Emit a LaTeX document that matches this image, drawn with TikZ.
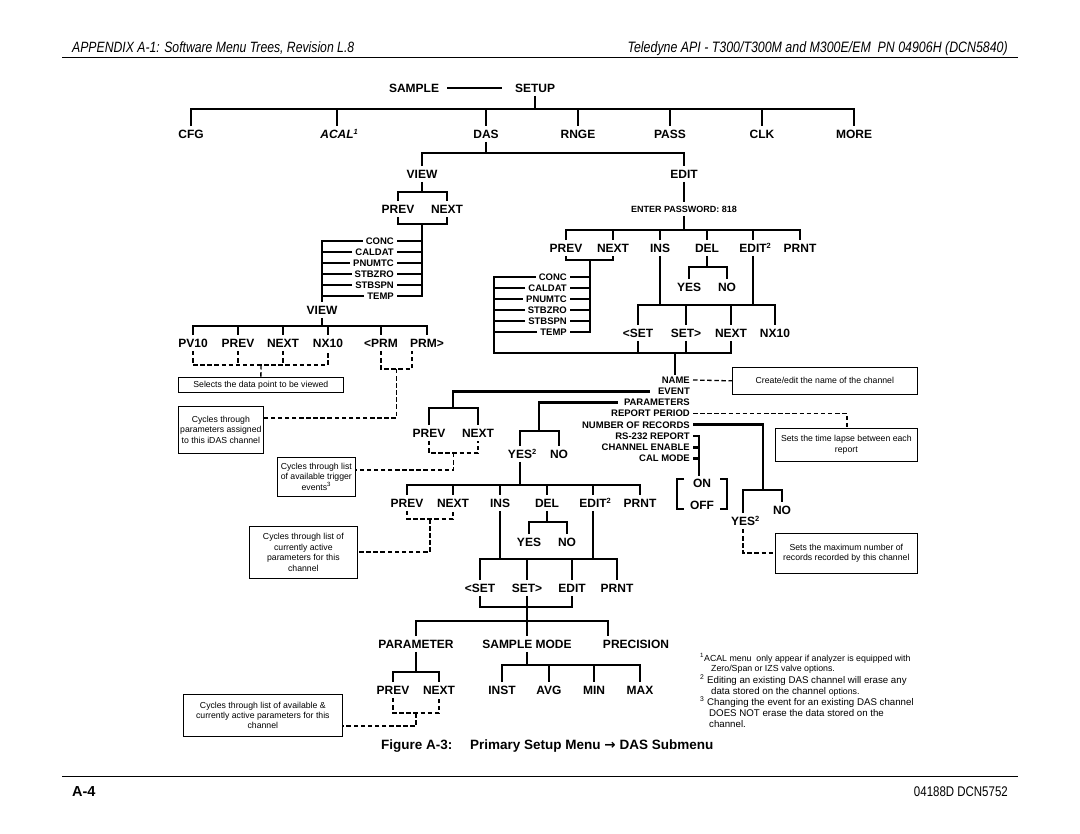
\documentclass[tikz,border=0pt]{standalone}
\usepackage{fontspec}
\setmainfont{Liberation Sans}
\newfontfamily\narrowfont{Liberation Sans}[FakeStretch=0.82]
\newfontfamily\arrowfont{DejaVu Sans}
\usetikzlibrary{calc}
\newcommand\sups[1]{\rlap{\raisebox{4.2pt}{\fontsize{7.5}{7.5}\selectfont #1}}}
\tikzset{
 tree/.style={line width=2.9pt, line join=miter},
 dsh/.style={line width=1.3pt, dash pattern=on 4.5pt off 2.6pt},
 lbl/.style={font=\bfseries\fontsize{12}{12}\selectfont, inner xsep=1pt, inner ysep=3.5pt, text height=8.5pt, text depth=0pt},
 sm/.style={font=\bfseries\fontsize{9.5}{10}\selectfont, inner xsep=3pt, inner ysep=1pt, text height=6.8pt, text depth=0pt, anchor=east},
 note/.style={draw, line width=0.7pt, font=\fontsize{8.7}{10.4}\selectfont, align=center, inner sep=0pt, anchor=north west},
 fna/.style={anchor=west, inner sep=0pt, text height=6.3pt, text depth=0pt, font=\fontsize{8.8}{10}\selectfont},
 fnb/.style={anchor=west, inner sep=0pt, text height=7pt, text depth=0pt, font=\fontsize{9.7}{10}\selectfont},
}
\begin{document}
\begin{tikzpicture}[x=1pt,y=-1pt]
\fill[white] (0,0) rectangle (1080,834);
\useasboundingbox (0,0) rectangle (1080,834);

% header and footer
\node[anchor=west, inner sep=0pt, text height=10.7pt, text depth=0pt, font=\narrowfont\itshape\fontsize{14.9}{15}\selectfont] (hl) at (72,47) {APPENDIX A-1: Software Menu Trees, Revision L.8};
\node[anchor=east, inner sep=0pt, text height=10.7pt, text depth=0pt, font=\narrowfont\itshape\fontsize{15.1}{15}\selectfont] (hr) at (1008,47) {Teledyne API - T300/T300M and M300E/EM\ \ PN 04906H (DCN5840)};
\draw[line width=0.9pt] (62,57.5) -- (1018,57.5);
\draw[line width=0.9pt] (62,776) -- (1018,776);
\node[anchor=west, inner sep=0pt, text height=10.4pt, text depth=0pt, font=\bfseries\fontsize{14.5}{15}\selectfont] (pg) at (72,791) {A-4};
\node[anchor=east, inner sep=0pt, text height=10pt, text depth=0pt, font=\narrowfont\fontsize{14}{15}\selectfont] (dcn) at (1008,791) {04188D DCN5752};
\node[anchor=west, inner sep=0pt, text height=9.7pt, text depth=0pt, font=\bfseries\fontsize{13.5}{14}\selectfont] (figA) at (381,745) {Figure A-3:};
\node[anchor=west, inner sep=0pt, text height=9.7pt, text depth=0pt, font=\bfseries\fontsize{13.5}{14}\selectfont] (figB) at (470,745) {Primary Setup Menu {\arrowfont\bfseries →} DAS Submenu};

% top level
\node[lbl] (sample) at (414,88) {SAMPLE};
\node[lbl] (setup) at (535,88) {SETUP};
\draw[line width=2.2pt] ([xshift=7pt]sample.east) -- ([xshift=-12pt]setup.west);
\coordinate (b0) at (535,109);
\draw[tree] (setup.south) -- (b0);
\node[lbl] (cfg) at (191,134) {CFG};
\node[lbl] (acal) at (337,134) {\itshape ACAL\sups{1}};
\node[lbl] (das) at (486,134) {DAS};
\node[lbl] (rnge) at (578,134) {RNGE};
\node[lbl] (pass) at (670,134) {PASS};
\node[lbl] (clk) at (762,134) {CLK};
\node[lbl] (more) at (854,134) {MORE};
\draw[tree] (cfg.north) -- (cfg.north|-b0) -- (more.north|-b0) -- (more.north);
\foreach \n in {acal,das,rnge,pass,clk} \draw[tree] (\n.north|-b0) -- (\n.north);

% DAS
\coordinate (b1) at (486,153);
\draw[tree] (das.south) -- (b1);
\node[lbl] (view1) at (422,174) {VIEW};
\node[lbl] (edit1) at (684,174) {EDIT};
\draw[tree] (view1.north) -- (view1.north|-b1) -- (edit1.north|-b1) -- (edit1.north);

% VIEW branch
\coordinate (b2) at (422,192);
\draw[tree] (view1.south) -- (b2);
\node[lbl] (prev1) at (398,209) {PREV};
\node[lbl] (next1) at (447,209) {NEXT};
\draw[tree] (prev1.north) -- (prev1.north|-b2) -- (next1.north|-b2) -- (next1.north);
\coordinate (b3) at (422,224);
\draw[tree] (prev1.south) -- (prev1.south|-b3) -- (next1.south|-b3) -- (next1.south);
\node[sm] (la) at (397,241) {CONC};
\node[sm] (lb) at (397,252) {CALDAT};
\node[sm] (lc) at (397,263) {PNUMTC};
\node[sm] (ld) at (397,274) {STBZRO};
\node[sm] (le) at (397,285) {STBSPN};
\node[sm] (lf) at (397,296) {TEMP};
\draw[tree] (b3) -- (lf.east -| b3) -- (lf.east);
\foreach \n in {la,lb,lc,ld,le} \draw[tree] (\n.east) -- (\n.east -| b3);
\coordinate (lv1) at (322,241);
\node[lbl] (view2) at (322,310) {VIEW};
\draw[tree] (la.west) -- (la.west -| lv1) -- (view2.north);
\foreach \n in {lb,lc,ld,le,lf} \draw[tree] (\n.west) -- (\n.west -| lv1);
\coordinate (b4) at (322,326);
\draw[tree] (view2.south) -- (b4);
\node[lbl] (pv10) at (193,343) {PV10};
\node[lbl] (prev2) at (238,343) {PREV};
\node[lbl] (next2) at (283,343) {NEXT};
\node[lbl] (nx10) at (328,343) {NX10};
\node[lbl] (lprm) at (381,343) {<PRM};
\node[lbl] (rprm) at (427,343) {PRM>};
\draw[tree] (pv10.north) -- (pv10.north|-b4) -- (rprm.north|-b4) -- (rprm.north);
\foreach \n in {prev2,next2,nx10,lprm} \draw[tree] (\n.north|-b4) -- (\n.north);
\coordinate (d1) at (261,365);
\draw[dsh] (pv10.south) -- (pv10.south|-d1) -- (nx10.south|-d1) -- (nx10.south);
\foreach \n in {prev2,next2} \draw[dsh] (\n.south) -- (\n.south|-d1);
\node[note, minimum width=165pt, minimum height=15pt] (sel) at (178,377) {Selects the data point to be viewed};
\draw[dsh] (d1) -- (sel.north);
\coordinate (rprmd) at ([xshift=-15pt]rprm.south);
\coordinate (d2) at (396.5,369);
\draw[dsh] (lprm.south) -- (lprm.south|-d2) -- (rprmd|-d2) -- (rprmd);
\node[note, minimum width=85pt, minimum height=47pt] (box2) at (178,406) {Cycles through\\parameters assigned\\to this iDAS channel};
\coordinate (d2b) at (263,418);
\draw[dsh] (d2) -- (d2|-d2b) -- (d2b);

% EDIT branch
\node[font=\bfseries\fontsize{9}{9}\selectfont, inner xsep=1pt, inner ysep=3.5pt, text height=6.5pt, text depth=0pt] (pw) at (684,209) {ENTER PASSWORD: 818};
\draw[tree] (edit1.south) -- (pw.north);
\coordinate (b5) at (684,230);
\draw[tree] (pw.south) -- (b5);
\node[lbl] (prev3) at (566,248) {PREV};
\node[lbl] (next3) at (613,248) {NEXT};
\node[lbl] (ins1) at (660,248) {INS};
\node[lbl] (del1) at (707,248) {DEL};
\node[lbl] (edit2) at (753,248) {EDIT\sups{2}};
\node[lbl] (prnt1) at (800,248) {PRNT};
\draw[tree] (prev3.north) -- (prev3.north|-b5) -- (prnt1.north|-b5) -- (prnt1.north);
\foreach \n in {next3,ins1,del1,edit2} \draw[tree] (\n.north|-b5) -- (\n.north);
\coordinate (b6) at (590,260);
\draw[tree] (prev3.south) -- (prev3.south|-b6) -- (next3.south|-b6) -- (next3.south);
\node[sm] (ua) at (570,277) {CONC};
\node[sm] (ub) at (570,288) {CALDAT};
\node[sm] (uc) at (570,299) {PNUMTC};
\node[sm] (ud) at (570,310) {STBZRO};
\node[sm] (ue) at (570,321) {STBSPN};
\node[sm] (uf) at (570,332) {TEMP};
\draw[tree] (b6) -- (uf.east -| b6) -- (uf.east);
\foreach \n in {ua,ub,uc,ud,ue} \draw[tree] (\n.east) -- (\n.east -| b6);
\coordinate (lv2) at (494,277);
\coordinate (b7) at (675,353);
\node[lbl] (lset1) at (638,333) {<SET};
\node[lbl] (rset1) at (686,333) {SET>};
\node[lbl] (nextb) at (731,333) {NEXT};
\node[lbl] (nx10b) at (775,333) {NX10};
\draw[tree] (ua.west) -- (ua.west -| lv2) -- (lv2|-b7) -- (nextb.south|-b7) -- (nextb.south);
\foreach \n in {ub,uc,ud,ue,uf} \draw[tree] (\n.west) -- (\n.west -| lv2);
\foreach \n in {lset1,rset1} \draw[tree] (\n.south) -- (\n.south|-b7);
\coordinate (b8) at (707,267);
\draw[tree] (del1.south) -- (b8);
\node[lbl] (yes1) at (689,287) {YES};
\node[lbl] (no1) at (727,287) {NO};
\draw[tree] (yes1.north) -- (yes1.north|-b8) -- (no1.north|-b8) -- (no1.north);
\coordinate (b9) at (700,305);
\draw[tree] (ins1.south) -- (ins1.south|-b9);
\draw[tree] (edit2.south) -- (edit2.south|-b9);
\draw[tree] (lset1.north) -- (lset1.north|-b9) -- (nx10b.north|-b9) -- (nx10b.north);
\foreach \n in {rset1,nextb} \draw[tree] (\n.north|-b9) -- (\n.north);

% channel properties
\node[sm] (name) at (693,380) {NAME};
\node[sm] (event) at (693,391.2) {EVENT};
\node[sm] (params) at (693,402.4) {PARAMETERS};
\node[sm] (rper) at (693,413.6) {REPORT PERIOD};
\node[sm] (nrec) at (693,424.8) {NUMBER OF RECORDS};
\node[sm] (rs) at (693,436) {RS-232 REPORT};
\node[sm] (chen) at (693,447.2) {CHANNEL ENABLE};
\node[sm] (calm) at (693,458.4) {CAL MODE};
\draw[tree] (b7) -- (b7|-name.north);
\node[note, minimum width=185pt, minimum height=27pt] (nameBox) at (732,367) {Create/edit the name of the channel};
\draw[dsh] (name.east) -- (nameBox.west);

% EVENT
\coordinate (b10) at (453,408);
\coordinate (evs) at ([xshift=-5pt]event.west);
\draw[tree] (evs) -- (evs -| b10) -- (b10);
\node[lbl] (prev4) at (429,433) {PREV};
\node[lbl] (next4) at (478,433) {NEXT};
\draw[tree] (prev4.north) -- (prev4.north|-b10) -- (next4.north|-b10) -- (next4.north);
\coordinate (d3) at (453.5,453);
\draw[dsh] (prev4.south) -- (prev4.south|-d3) -- (next4.south|-d3) -- (next4.south);
\node[note, minimum width=78pt, minimum height=39pt] (box3) at (277,457) {Cycles through list\\of available trigger\\events\textsuperscript{3}};
\coordinate (d3b) at (355,470);
\draw[dsh] (d3) -- (d3|-d3b) -- (d3b);

% PARAMETERS
\coordinate (b11) at (539,431);
\coordinate (pas) at ([xshift=-3pt]params.west);
\draw[tree] (pas) -- (pas -| b11) -- (b11);
\node[lbl] (yes2) at (520,454) {YES\sups{2}};
\node[lbl] (no2) at (559,454) {NO};
\draw[tree] (yes2.north) -- (yes2.north|-b11) -- (no2.north|-b11) -- (no2.north);
\coordinate (b12) at (520,485);
\draw[tree] (yes2.south) -- (b12);
\node[lbl] (prev5) at (407,503) {PREV};
\node[lbl] (next5) at (453,503) {NEXT};
\node[lbl] (ins2) at (500,503) {INS};
\node[lbl] (del2) at (547,503) {DEL};
\node[lbl] (edit3) at (593,503) {EDIT\sups{2}};
\node[lbl] (prnt2) at (640,503) {PRNT};
\draw[tree] (prev5.north) -- (prev5.north|-b12) -- (prnt2.north|-b12) -- (prnt2.north);
\foreach \n in {next5,ins2,del2,edit3} \draw[tree] (\n.north|-b12) -- (\n.north);
\coordinate (d4) at (430,519);
\draw[dsh] (prev5.south) -- (prev5.south|-d4) -- (next5.south|-d4) -- (next5.south);
\node[note, minimum width=108pt, minimum height=52pt] (box4) at (249,526) {Cycles through list of\\currently active\\parameters for this\\channel};
\coordinate (d4b) at (357,552);
\draw[dsh] (d4) -- (d4|-d4b) -- (d4b);
\coordinate (b13) at (547,522);
\draw[tree] (del2.south) -- (b13);
\node[lbl] (yes3) at (529,542) {YES};
\node[lbl] (no3) at (567,542) {NO};
\draw[tree] (yes3.north) -- (yes3.north|-b13) -- (no3.north|-b13) -- (no3.north);
\coordinate (b14) at (548,559);
\draw[tree] (ins2.south) -- (ins2.south|-b14);
\draw[tree] (edit3.south) -- (edit3.south|-b14);
\node[lbl] (lset2) at (480,588) {<SET};
\node[lbl] (rset2) at (527,588) {SET>};
\node[lbl] (edit4) at (572,588) {EDIT};
\node[lbl] (prnt3) at (617,588) {PRNT};
\draw[tree] (lset2.north) -- (lset2.north|-b14) -- (prnt3.north|-b14) -- (prnt3.north);
\foreach \n in {rset2,edit4} \draw[tree] (\n.north|-b14) -- (\n.north);
\coordinate (b15) at (527,607);
\coordinate (b16) at (527,621);
\draw[tree] (lset2.south) -- (lset2.south|-b15) -- (edit4.south|-b15) -- (edit4.south);
\node[lbl] (param) at (416,644) {PARAMETER};
\node[lbl] (smode) at (527,644) {SAMPLE MODE};
\node[lbl] (prec) at (636,644) {PRECISION};
\coordinate (precx) at (608,644);
\draw[tree] (rset2.south) -- (smode.north);
\draw[tree] (param.north) -- (param.north|-b16) -- (precx|-b16) -- (precx|-prec.north);
\coordinate (b17) at (416,672);
\draw[tree] (param.south) -- (b17);
\node[lbl] (prev6) at (393,690) {PREV};
\node[lbl] (next6) at (439,690) {NEXT};
\draw[tree] (prev6.north) -- (prev6.north|-b17) -- (next6.north|-b17) -- (next6.north);
\coordinate (d5) at (416,713);
\draw[dsh] (prev6.south) -- (prev6.south|-d5) -- (next6.south|-d5) -- (next6.south);
\node[note, minimum width=159pt, minimum height=42pt] (box5) at (183,694) {Cycles through list of available \&\\currently active parameters for this\\channel};
\coordinate (d5b) at (342,726);
\draw[dsh] (d5) -- (d5|-d5b) -- (d5b);
\coordinate (b18) at (527,665);
\draw[tree] (smode.south) -- (b18);
\node[lbl] (inst) at (502,690) {INST};
\node[lbl] (avg) at (549,690) {AVG};
\node[lbl] (min) at (594,690) {MIN};
\node[lbl] (max) at (640,690) {MAX};
\draw[tree] (inst.north) -- (inst.north|-b18) -- (max.north|-b18) -- (max.north);
\foreach \n in {avg,min} \draw[tree] (\n.north|-b18) -- (\n.north);

% REPORT PERIOD
\node[note, minimum width=142pt, minimum height=33pt] (box6) at (775,428) {Sets the time lapse between each\\report};
\coordinate (d6) at (847,413.6);
\draw[dsh] (rper.east) -- (d6) -- (d6|-box6.north);

% NUMBER OF RECORDS
\coordinate (b19) at (763,490);
\draw[tree] (nrec.east) -- (nrec.east -| b19) -- (b19);
\node[lbl] (yes4) at (743,521) {YES\sups{2}};
\node[lbl] (no4) at (782,510) {NO};
\draw[tree] (yes4.north) -- (yes4.north|-b19) -- (no4.north|-b19) -- (no4.north);
\node[note, minimum width=142pt, minimum height=40pt] (box7) at (775,533) {Sets the maximum number of\\records recorded by this channel};
\coordinate (d7) at (743,553);
\draw[dsh] (yes4.south) -- (d7) -- (d7 -| box7.west);

% ON / OFF
\coordinate (v20) at (699,476);
\draw[tree] (rs.east) -- (rs.east -| v20) -- (v20);
\foreach \n in {chen,calm} \draw[tree] (\n.east) -- (\n.east -| v20);
\node[lbl] (on) at (702,483) {ON};
\node[lbl] (off) at (702,505) {OFF};
\draw[tree] (684,479) -- (677,479) -- (677,509) -- (684,509);
\draw[tree] (720,479) -- (727,479) -- (727,509) -- (720,509);

% footnotes
\node[fna] (fn1) at (700,658) {\textsuperscript{1}ACAL menu\ \ only appear if analyzer is equipped with};
\node[fna] (fn1b) at (711,668.5) {Zero/Span or IZS valve options.};
\node[fnb] (fn2) at (700,679.5) {\textsuperscript{2} Editing an existing DAS channel will erase any};
\node[fnb] (fn2b) at (711,690.5) {data stored on the channel {\fontsize{8.8}{10}\selectfont options.}};
\node[fnb] (fn3) at (700,701.5) {\textsuperscript{3} Changing the event for an existing DAS channel};
\node[fnb] (fn3b) at (709,712.5) {DOES NOT erase the data stored on the};
\node[fnb] (fn3c) at (709,723.5) {channel.};
\end{tikzpicture}
\end{document}
